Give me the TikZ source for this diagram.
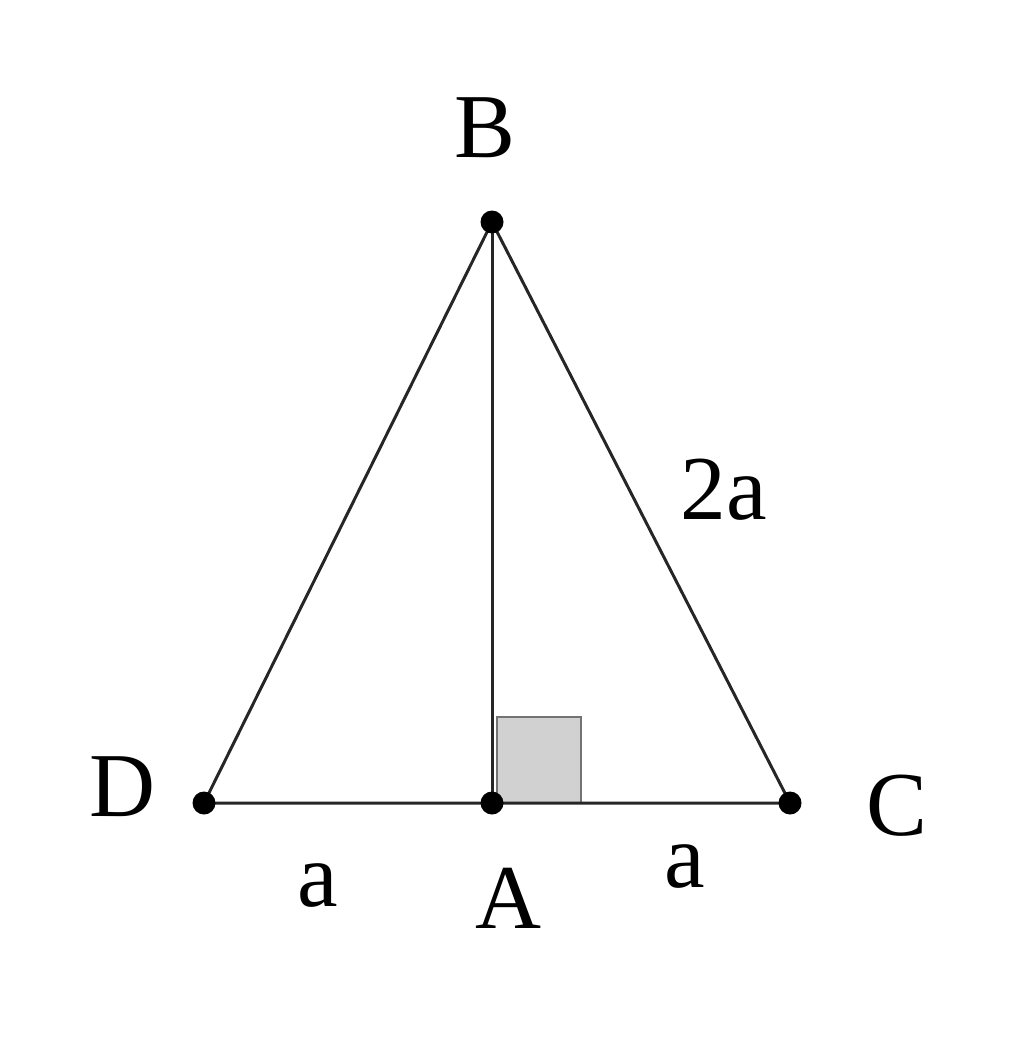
\documentclass[tikz,border=0pt]{standalone}
\usepackage{fontspec}
\setmainfont{Liberation Serif}
\begin{document}
\begin{tikzpicture}[x=0.02cm,y=-0.02cm,
  seg/.style={line width=1.7pt,draw=black!85},
  dot/.style={circle,fill=black,inner sep=0pt,minimum size=0.46cm},
  lbl/.style={font=\fontsize{52}{60}\selectfont,inner sep=0pt}]
\useasboundingbox (0,0) rectangle (1024,1044);
\coordinate (B) at (492,222);
\coordinate (D) at (204,803);
\coordinate (A) at (492,803);
\coordinate (C) at (790,803);
\coordinate (S1) at (497,717);
\coordinate (S2) at (581,803);
\filldraw[fill=black!18,draw=black!55,line width=1.5pt] (S1) rectangle (S2);
\draw[seg] (D) -- (B) -- (C) -- cycle;
\draw[seg] (B) -- (A);
\node[dot] (nB) at (B) {};
\node[dot] (nD) at (D) {};
\node[dot] (nA) at (A) {};
\node[dot] (nC) at (C) {};
\node[lbl] (lB) at (485,128) {B};
\node[lbl] (lD) at (122,787) {D};
\node[lbl] (lC) at (897,806) {C};
\node[lbl] (lA) at (508,898) {A};
\node[lbl] (la1) at (318,886) {a};
\node[lbl] (la2) at (685,867) {a};
\node[lbl] (l2a) at (724,490) {2a};
\end{tikzpicture}
\end{document}
